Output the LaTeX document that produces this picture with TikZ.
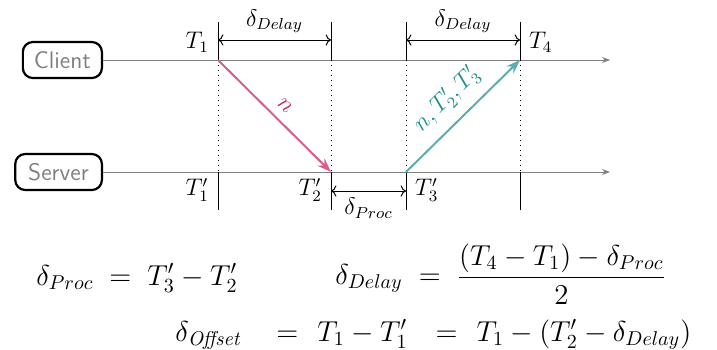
\documentclass[tikz,border=0pt]{standalone}
\usepackage{amsmath}
\usetikzlibrary{arrows.meta,calc}
\definecolor{pinkline}{RGB}{214,96,136}
\definecolor{pinktext}{RGB}{196,40,100}
\definecolor{tealline}{RGB}{96,172,172}
\definecolor{tealtext}{RGB}{30,140,140}
\definecolor{axisgray}{RGB}{128,128,128}
\begin{document}
\begin{tikzpicture}[x=0.5pt,y=-0.5pt,
  every node/.style={font=\large},
  actor/.style={draw=black,line width=1.1pt,rounded corners=5pt,text=axisgray,font=\large\sffamily,minimum height=18pt,inner xsep=5.5pt,anchor=east},
  axis/.style={draw=axisgray,-{Stealth[length=4pt,width=3pt]}},
  tick/.style={draw=black,line width=0.5pt},
  guide/.style={draw=black,dotted,line width=0.5pt},
  dim/.style={draw=black,<->,line width=0.5pt},
  msg/.style={line width=1pt,-{Stealth[length=7pt,width=5pt]}},
  formula/.style={font=\Large,inner sep=0pt,anchor=base west}]
\useasboundingbox (0,0) rectangle (717,349);
% actors
\node[actor] (client) at (103,60) {Client};
\node[actor,inner xsep=6.5pt] (server) at (103,172) {Server};
% points on time lines
\foreach \i/\x in {1/218,2/331,3/406,4/520}{
  \coordinate (c\i) at (\x,60);
  \coordinate (s\i) at (\x,172);
  \coordinate (ct\i) at (\x,22);
  \coordinate (sb\i) at (\x,210);
  \coordinate (da\i) at (\x,40);
  \coordinate (pa\i) at (\x,191);
}
\coordinate (cend) at (610,60);
\coordinate (send) at (610,172);
\draw[axis] (client.east) -- (cend);
\draw[axis] (server.east) -- (send);
% ticks
\foreach \i in {1,2,3,4}{
  \draw[tick] (ct\i) -- (c\i);
  \draw[tick] (s\i) -- (sb\i);
  \draw[guide] (c\i) -- (s\i);
}
% dimension arrows
\draw[dim] (da1) -- node[above=0pt] (dl1) {$\delta_{Delay}$} (da2);
\draw[dim] (da3) -- node[above=0pt] (dl2) {$\delta_{Delay}$} (da4);
\draw[dim] (pa2) -- node[below=0pt] (pl) {$\delta_{Proc}$} (pa3);
% time labels
\node[anchor=east] (t1) at (216,42) {$T_1$};
\node[anchor=west] (t4) at (522,42) {$T_4$};
\node[anchor=east] (t1p) at (216,190) {$T'_1$};
\node[anchor=east] (t2p) at (329,190) {$T'_2$};
\node[anchor=west] (t3p) at (408,190) {$T'_3$};
% messages
\draw[msg,pinkline] (c1) -- node[sloped,above=1pt,text=pinktext] (m1) {$n$} (s2);
\draw[msg,tealline] (s3) -- node[sloped,above=2pt,text=tealtext] (m2) {$n, T'_2, T'_3$} (c4);
% formulas
\node[formula] (f1) at (36,285) {$\delta_{Proc}\;=\;T'_3 - T'_2$};
\node[formula] (f2) at (335,284.5) {$\delta_{Delay}\;=\;\dfrac{(T_4 - T_1) - \delta_{Proc}}{2}$};
\node[formula] (f3) at (175,341) {$\delta_{\mathit{Offset}}\hspace{17pt}{=}\hspace{9.5pt}T_1 - T'_1\hspace{14pt}{=}\hspace{9.5pt}T_1 - (T'_2 - \delta_{Delay})$};
\end{tikzpicture}
\end{document}
